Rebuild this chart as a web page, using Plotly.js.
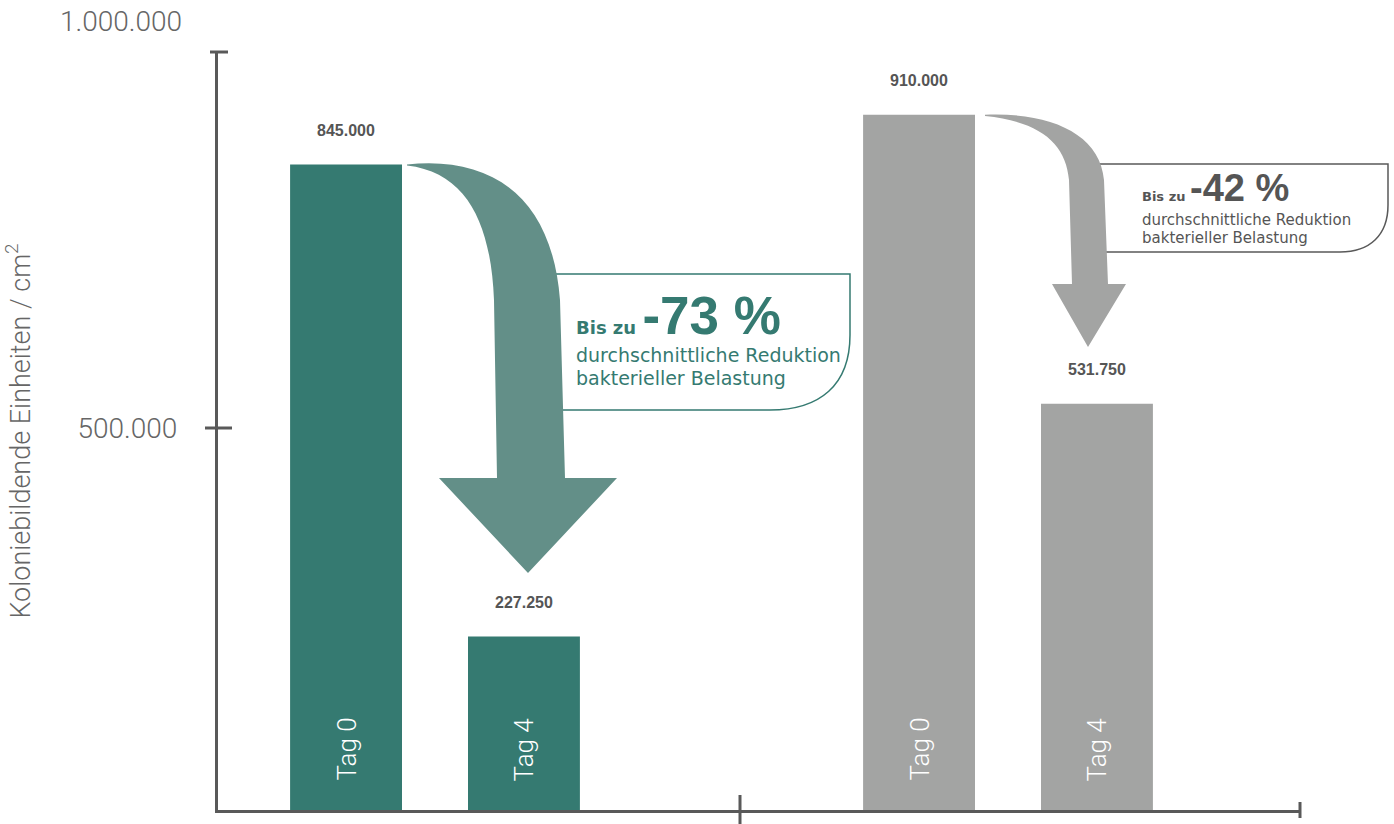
<!DOCTYPE html>
<html>
<head>
<meta charset="utf-8">
<script src="https://cdn.plot.ly/plotly-3.0.1.min.js"></script>
<style>html,body{margin:0;padding:0;background:#fff;}#chart{width:1394px;height:824px;}</style>
</head>
<body>
<div id="chart"></div>
<script>
// ---- data ----
const groups = ["Gruppe 1", "Gruppe 2"];
const seriesNames = ["Tag 0", "Tag 4"];
const tag0Values = [845000, 910000];
const tag4Values = [227250, 531750];
const valueLabels0 = ["845.000", "910.000"];
const valueLabels4 = ["227.250", "531.750"];
const reductionLabels = ["-73 %", "-42 %"];
const yTickVals = [0, 500000, 1000000];
const yTickText = ["0", "500.000", "1.000.000"];
const yTitle = "Koloniebildende Einheiten / cm<sup>2</sup>";

// ---- styling / geometry ----
const GREEN = "#357a71", GREEN_ARROW = "#638f88", GRAY = "#a3a4a3", AXIS = "#595959", TXT = "#555555";
const groupColors = [GREEN, GRAY];
const arrowColors = [GREEN_ARROW, GRAY];
const L = 218, R = 1300, T = 52, B = 810, W = R - L, H = B - T;
const PX_PER_UNIT = 382 / 500000;
const YMAX = H / PX_PER_UNIT;
const GPX = 573, G0 = 435;
const xRange = [-(G0 - L) / GPX, 1 + (R - (G0 + GPX)) / GPX];
const BARGAP = 0.379, BARGROUPGAP = 0.371;
const slot = (1 - BARGAP) / 2;
const offsets = [-slot / 2, slot / 2];

const pX = x => (x - L) / W;
const pY = y => (B - y) / H;
const vPx = v => B - v * PX_PER_UNIT;

function buildPath(segs, ymap) {
  return segs.map(s => {
    if (s[0] === 'Z') return 'Z';
    return s[0] + ' ' + s.slice(1).map(p => pX(p[0]).toFixed(5) + ',' + pY(ymap(p[1])).toFixed(5)).join(' ');
  }).join(' ');
}
function mapper(tailRef, knee, tailActual) {
  return y => y < knee ? tailActual + (y - tailRef) * (knee - tailActual) / (knee - tailRef) : y;
}

const greenArrow = [
  ['M', [407, 164]], ['C', [490, 155], [552, 195], [560, 300]], ['L', [565, 478]],
  ['L', [617, 478]], ['L', [528, 573]], ['L', [439, 478]], ['L', [497, 478]],
  ['L', [494, 300]], ['C', [491, 225], [468, 172], [407, 165]], ['Z']
];
const grayArrow = [
  ['M', [985, 82]], ['C', [1050, 78], [1100, 110], [1104, 180]], ['L', [1108, 284]],
  ['L', [1126, 284]], ['L', [1088, 347]], ['L', [1052, 284]], ['L', [1072, 284]],
  ['L', [1069, 180]], ['C', [1066, 125], [1040, 92], [985, 84]], ['Z']
];
const greenBox = [['M', [540, 274]], ['L', [850, 274]], ['L', [850, 335]], ['C', [850, 385], [820, 410], [770, 410]], ['L', [540, 410]]];
const grayBox = [['M', [1080, 164]], ['L', [1388, 164]], ['L', [1388, 205]], ['C', [1388, 235], [1370, 252], [1340, 252]], ['L', [1080, 252]]];
const ident = y => y;

const traces = [
  {type: 'bar', name: seriesNames[0], x: groups, y: tag0Values, marker: {color: groupColors}, hoverinfo: 'skip'},
  {type: 'bar', name: seriesNames[1], x: groups, y: tag4Values, marker: {color: groupColors}, hoverinfo: 'skip'}
];

const shapes = [];
const lineSt = {color: AXIS, width: 3};
shapes.push({type: 'line', xref: 'paper', yref: 'paper', x0: pX(210), x1: pX(228), y0: 1, y1: 1, line: lineSt});
shapes.push({type: 'line', xref: 'paper', yref: 'y', x0: pX(205), x1: pX(232), y0: yTickVals[1], y1: yTickVals[1], line: lineSt});
shapes.push({type: 'line', xref: 'paper', yref: 'paper', x0: pX(740), x1: pX(740), y0: pY(795), y1: pY(824), line: lineSt});
shapes.push({type: 'line', xref: 'paper', yref: 'paper', x0: 1, x1: 1, y0: pY(802), y1: pY(818), line: lineSt});
shapes.push({type: 'path', xref: 'paper', yref: 'paper', path: buildPath(greenBox, ident), line: {color: GREEN, width: 1.5}, fillcolor: 'rgba(0,0,0,0)'});
shapes.push({type: 'path', xref: 'paper', yref: 'paper', path: buildPath(grayBox, ident), line: {color: AXIS, width: 1.5}, fillcolor: 'rgba(0,0,0,0)'});
shapes.push({type: 'path', xref: 'paper', yref: 'paper', path: buildPath(greenArrow, mapper(164, 274, vPx(tag0Values[0]))), line: {width: 0}, fillcolor: arrowColors[0]});
shapes.push({type: 'path', xref: 'paper', yref: 'paper', path: buildPath(grayArrow, mapper(82, 180, vPx(tag0Values[1]))), line: {width: 0}, fillcolor: arrowColors[1]});

const annotations = [];
const valFont = {family: 'Liberation Sans, Arial, sans-serif', size: 16, color: TXT, weight: 700};
const tagFont = {family: 'Roboto, Liberation Sans, sans-serif', size: 26, color: '#ffffff', weight: 300};
for (let g = 0; g < groups.length; g++) {
  [[tag0Values, valueLabels0, 0], [tag4Values, valueLabels4, 1]].forEach(([vals, labs, s]) => {
    annotations.push({x: g + offsets[s], y: vals[g], xref: 'x', yref: 'y', text: '<b>' + labs[g] + '</b>', showarrow: false, yshift: 34, yanchor: 'middle', font: valFont});
    annotations.push({x: g + offsets[s], y: 0, xref: 'x', yref: 'y', text: seriesNames[s], showarrow: false, textangle: -90, yanchor: 'bottom', yshift: 27, font: tagFont});
  });
}
// y tick label beyond axis top
annotations.push({xref: 'paper', yref: 'paper', x: pX(184), y: pY(22), xanchor: 'right', yanchor: 'middle', text: yTickText[2], showarrow: false,
  font: {family: 'Roboto, Liberation Sans, sans-serif', size: 28, color: '#666666', weight: 300}});

// reduction boxes text
const boxText = [
  {x: 576, y1: 347, y2: 355, y3: 378, color: GREEN, s1: 18, s2: 53, s3: 19},
  {x: 1142, y1: 211, y2: 220, y3: 238, color: TXT, s1: 13, s2: 38, s3: 15}
];
boxText.forEach((b, i) => {
  annotations.push({xref: 'paper', yref: 'paper', x: pX(b.x - 2), y: pY(b.y1), xanchor: 'left', yanchor: 'bottom', showarrow: false,
    text: '<b>Bis zu </b><span style="font-family:Liberation Sans, Arial, sans-serif;font-size:' + b.s2 + 'px"><b>' + reductionLabels[i] + '</b></span>',
    font: {family: 'DejaVu Sans, sans-serif', size: b.s1, color: b.color}});
  annotations.push({xref: 'paper', yref: 'paper', x: pX(b.x - 2), y: pY(b.y2), xanchor: 'left', yanchor: 'middle', showarrow: false,
    text: 'durchschnittliche Reduktion', font: {family: 'DejaVu Sans, sans-serif', size: b.s3, color: b.color}});
  annotations.push({xref: 'paper', yref: 'paper', x: pX(b.x - 2), y: pY(b.y3), xanchor: 'left', yanchor: 'middle', showarrow: false,
    text: 'bakterieller Belastung', font: {family: 'DejaVu Sans, sans-serif', size: b.s3, color: b.color}});
});

const layout = {
  width: 1394, height: 824,
  margin: {l: L, r: 1394 - R, t: T, b: 824 - B, pad: 0},
  paper_bgcolor: '#ffffff', plot_bgcolor: '#ffffff',
  showlegend: false,
  barmode: 'group', bargap: BARGAP, bargroupgap: BARGROUPGAP,
  xaxis: {type: 'category', range: xRange, showticklabels: false, ticks: '', showgrid: false, zeroline: false,
    showline: true, linecolor: AXIS, linewidth: 3, fixedrange: true},
  yaxis: {range: [0, YMAX], tickmode: 'array', tickvals: yTickVals.slice(0, 2), ticktext: yTickText.slice(0, 2),
    ticks: '', ticklabelstandoff: 32, showgrid: false, zeroline: false, showline: true, linecolor: AXIS, linewidth: 3,
    tickfont: {family: 'Roboto, Liberation Sans, sans-serif', size: 28, color: '#666666', weight: 300},
    title: {text: yTitle, standoff: 40, font: {family: 'Roboto, Liberation Sans, sans-serif', size: 27, color: '#666666', weight: 300}},
    fixedrange: true},
  shapes: shapes,
  annotations: annotations
};
Plotly.newPlot('chart', traces, layout, {displayModeBar: false, staticPlot: true});
</script>
</body>
</html>
